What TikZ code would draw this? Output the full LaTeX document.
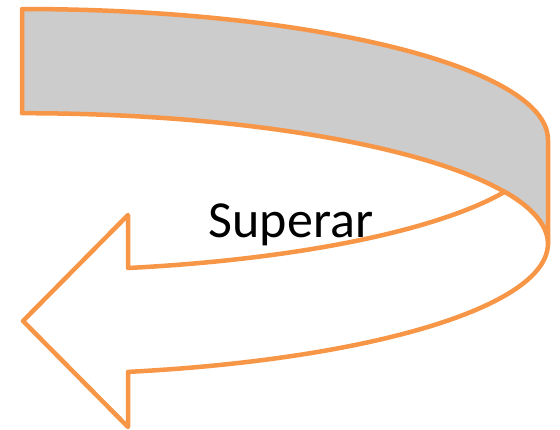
\documentclass[tikz,border=0pt]{standalone}
\usepackage{fontspec}
\setmainfont{Carlito}
\usetikzlibrary{positioning}
\definecolor{morange}{RGB}{247,150,70}
\definecolor{mgray}{RGB}{204,204,204}

\begin{document}
\begin{tikzpicture}[x=1pt, y=-1pt,
  band/.style={draw=morange, line width=4.5pt, line join=round},
  lbl/.style={font=\fontsize{52}{60}\selectfont, inner sep=0pt, anchor=base}
]
\useasboundingbox (0,0) rectangle (560,429);
% back part of the band (gray)
\draw[band, fill=mgray] (22,113) -- (22,9)
  arc[start angle=90, end angle=0, x radius=526pt, y radius=130.8pt]
  -- (548,244)
  arc[start angle=0, end angle=90, x radius=526pt, y radius=130.8pt]
  -- cycle;
% front part with the arrow head
\draw[band, fill=white] (128,268)
  arc[start angle=-78.37, end angle=-23.4, x radius=526pt, y radius=130.8pt]
  arc[start angle=23.4, end angle=-78.37, x radius=526pt, y radius=130.8pt]
  -- (128,427) -- (23,321) -- (128,215) -- cycle;
\node[lbl] (superar) at (291,237) {Superar};
\end{tikzpicture}
\end{document}
